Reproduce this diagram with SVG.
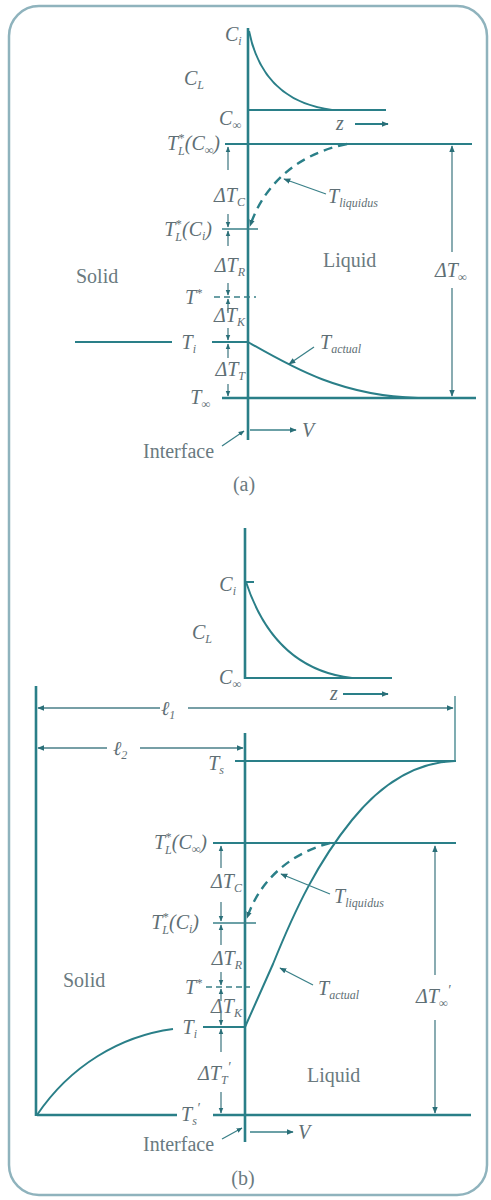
<svg xmlns="http://www.w3.org/2000/svg" width="491" height="1200" viewBox="0 0 491 1200">
<defs>
<marker id="ah" viewBox="0 0 10 10" refX="9" refY="5" markerWidth="7" markerHeight="7" orient="auto-start-reverse" markerUnits="userSpaceOnUse">
<path d="M0,1 L10,5 L0,9 Z" fill="#2a6f78"/>
</marker>
<marker id="ahs" viewBox="0 0 10 10" refX="9" refY="5" markerWidth="6" markerHeight="6" orient="auto-start-reverse" markerUnits="userSpaceOnUse">
<path d="M0,1 L10,5 L0,9 Z" fill="#2a6f78"/>
</marker>
</defs>
<style>
.t{font-family:"Liberation Serif",serif;font-style:italic;font-size:20px;fill:#5f6f75}
.e{text-anchor:end}
.r{font-family:"Liberation Serif",serif;font-size:20px;fill:#6a7a80}
.s{font-size:12px}
.p{font-size:14px}
.ax{stroke:#2a7f88;stroke-width:2.6;fill:none}
.ln{stroke:#2a7f88;stroke-width:2;fill:none}
.th{stroke:#3a8088;stroke-width:1.3;fill:none}
.dim{stroke:#4a7f88;stroke-width:1.3;fill:none}
.da{stroke:#2a7f88;stroke-width:2.4;fill:none;stroke-dasharray:9,6}
</style>
<rect x="9" y="6" width="478" height="1189" rx="30" fill="#ffffff" stroke="#8fb3bd" stroke-width="2.5"/>

<g id="connectors">
<!-- part a -->
<line class="ax" x1="248" y1="28" x2="248" y2="440"/>
<path class="ln" d="M249,31 C258,76 285,104 332,110"/>
<line class="ln" x1="249" y1="110" x2="386" y2="110"/>
<line class="ln" x1="355" y1="124" x2="388" y2="124" marker-end="url(#ah)"/>
<line class="ln" x1="225" y1="144" x2="472" y2="144"/>
<path class="da" d="M347,144 C292,155 262,190 250,226" marker-end="url(#ah)"/>
<line class="th" x1="326" y1="194" x2="284" y2="179" marker-end="url(#ah)"/>
<line class="dim" x1="452" y1="252" x2="452" y2="146" marker-end="url(#ah)"/>
<line class="dim" x1="452" y1="288" x2="452" y2="396" marker-end="url(#ah)"/>
<line class="th" x1="222" y1="229" x2="258" y2="229"/>
<line class="th" x1="214" y1="297" x2="256" y2="297" stroke-dasharray="6,4"/>
<line class="ln" x1="75" y1="342" x2="172" y2="342"/>
<line class="ln" x1="212" y1="342" x2="248" y2="342"/>
<line class="ax" x1="222" y1="398" x2="476" y2="398"/>
<path class="ln" d="M248,342 C290,366 340,396 418,398"/>
<line class="th" x1="314" y1="347" x2="289" y2="364" marker-end="url(#ah)"/>
<line class="dim" x1="228" y1="170" x2="228" y2="147" marker-end="url(#ahs)"/>
<line class="dim" x1="228" y1="214" x2="228" y2="227" marker-end="url(#ahs)"/>
<line class="dim" x1="228" y1="246" x2="228" y2="231" marker-end="url(#ahs)"/>
<line class="dim" x1="228" y1="283" x2="228" y2="295" marker-end="url(#ahs)"/>
<line class="dim" x1="228" y1="313" x2="228" y2="299" marker-end="url(#ahs)"/>
<line class="dim" x1="228" y1="328" x2="228" y2="340" marker-end="url(#ahs)"/>
<line class="dim" x1="228" y1="358" x2="228" y2="344" marker-end="url(#ahs)"/>
<line class="dim" x1="228" y1="384" x2="228" y2="396" marker-end="url(#ahs)"/>
<line class="th" x1="222" y1="446" x2="244" y2="431" marker-end="url(#ahs)"/>
<line class="th" x1="250" y1="430" x2="296" y2="430" marker-end="url(#ah)"/>

<!-- part b -->
<line class="ax" x1="245" y1="528" x2="245" y2="679"/>
<line class="ln" x1="245" y1="582" x2="254" y2="582"/>
<path class="ln" d="M246,582 C265,640 300,672 352,678"/>
<line class="ln" x1="245" y1="678" x2="392" y2="678"/>
<line class="ln" x1="343" y1="694" x2="388" y2="694" marker-end="url(#ah)"/>
<line class="ax" x1="36" y1="686" x2="36" y2="1116"/>
<line class="th" x1="455" y1="696" x2="455" y2="762"/>
<line class="dim" x1="160" y1="708" x2="38" y2="708" marker-end="url(#ah)"/>
<line class="dim" x1="188" y1="708" x2="453" y2="708" marker-end="url(#ah)"/>
<line class="dim" x1="107" y1="748" x2="38" y2="748" marker-end="url(#ah)"/>
<line class="dim" x1="140" y1="748" x2="243" y2="748" marker-end="url(#ah)"/>
<line class="ax" x1="245" y1="733" x2="245" y2="1142"/>
<line class="ln" x1="235" y1="761" x2="456" y2="761"/>
<line class="ln" x1="213" y1="843" x2="456" y2="843"/>
<path class="da" d="M330,843 C285,855 258,885 247,918" marker-end="url(#ah)"/>
<path class="ln" d="M245,1027 L273,964 C296,907 318,862 352,820 C386,778 420,762 455,761"/>
<line class="th" x1="330" y1="894" x2="281" y2="874" marker-end="url(#ah)"/>
<line class="th" x1="313" y1="985" x2="280" y2="968" marker-end="url(#ah)"/>
<line class="th" x1="213" y1="923" x2="256" y2="923"/>
<line class="th" x1="206" y1="987" x2="250" y2="987" stroke-dasharray="6,4"/>
<line class="ln" x1="203" y1="1027" x2="245" y2="1027"/>
<path class="ln" d="M37,1115 C70,1066 120,1036 173,1029"/>
<line class="ax" x1="37" y1="1115" x2="177" y2="1115"/>
<line class="ax" x1="213" y1="1115" x2="471" y2="1115"/>
<line class="dim" x1="435" y1="975" x2="435" y2="846" marker-end="url(#ah)"/>
<line class="dim" x1="435" y1="1020" x2="435" y2="1113" marker-end="url(#ah)"/>
<line class="dim" x1="221" y1="868" x2="221" y2="846" marker-end="url(#ahs)"/>
<line class="dim" x1="221" y1="902" x2="221" y2="921" marker-end="url(#ahs)"/>
<line class="dim" x1="221" y1="945" x2="221" y2="925" marker-end="url(#ahs)"/>
<line class="dim" x1="221" y1="972" x2="221" y2="985" marker-end="url(#ahs)"/>
<line class="dim" x1="221" y1="1001" x2="221" y2="989" marker-end="url(#ahs)"/>
<line class="dim" x1="221" y1="1013" x2="221" y2="1025" marker-end="url(#ahs)"/>
<line class="dim" x1="221" y1="1052" x2="221" y2="1029" marker-end="url(#ahs)"/>
<line class="dim" x1="221" y1="1092" x2="221" y2="1113" marker-end="url(#ahs)"/>
<line class="th" x1="222" y1="1139" x2="242" y2="1128" marker-end="url(#ahs)"/>
<line class="th" x1="250" y1="1132" x2="293" y2="1132" marker-end="url(#ah)"/>
</g>

<g id="labels-a">
<text class="t" x="225" y="41">C<tspan class="s" dy="4">i</tspan></text>
<text class="t" x="184" y="85">C<tspan class="s" dy="4">L</tspan></text>
<text class="t e" x="241" y="125">C<tspan class="s" dy="4">∞</tspan></text>
<text class="t" x="336" y="130">z</text>
<text class="t e" x="220" y="150">T<tspan class="s" dy="-8">*</tspan><tspan class="s" dx="-6" dy="13">L</tspan><tspan dy="-5">(C</tspan><tspan class="s" dy="4">∞</tspan><tspan dy="-4">)</tspan></text>
<text class="t e" x="245" y="202">ΔT<tspan class="s" dy="4">C</tspan></text>
<text class="t e" x="212" y="236">T<tspan class="s" dy="-8">*</tspan><tspan class="s" dx="-6" dy="13">L</tspan><tspan dy="-5">(C</tspan><tspan class="s" dy="4">i</tspan><tspan dy="-4">)</tspan></text>
<text class="t e" x="245" y="272">ΔT<tspan class="s" dy="4">R</tspan></text>
<text class="t e" x="202" y="304">T<tspan class="s" dy="-7">*</tspan></text>
<text class="t e" x="245" y="322">ΔT<tspan class="s" dy="4">K</tspan></text>
<text class="t e" x="196" y="349">T<tspan class="s" dy="4">i</tspan></text>
<text class="t e" x="245" y="376">ΔT<tspan class="s" dy="4">T</tspan></text>
<text class="t e" x="210" y="404">T<tspan class="s" dy="4">∞</tspan></text>
<text class="t" x="328" y="203">T<tspan class="s" dy="4">liquidus</tspan></text>
<text class="t" x="320" y="349">T<tspan class="s" dy="4">actual</tspan></text>
<text class="t" x="435" y="277">ΔT<tspan class="s" dy="4">∞</tspan></text>
<text class="r" x="76" y="283">Solid</text>
<text class="r" x="323" y="267">Liquid</text>
<text class="r" x="143" y="458" font-size="18">Interface</text>
<text class="t" x="302" y="437">V</text>
<text class="r" x="244" y="491" text-anchor="middle" font-size="16">(a)</text>
</g>

<g id="labels-b">
<text class="t e" x="236" y="591">C<tspan class="s" dy="4">i</tspan></text>
<text class="t" x="192" y="639">C<tspan class="s" dy="4">L</tspan></text>
<text class="t e" x="241" y="684">C<tspan class="s" dy="4">∞</tspan></text>
<text class="t" x="330" y="700">z</text>
<text class="t" x="161" y="715">ℓ<tspan class="s" dy="4">1</tspan></text>
<text class="t" x="113" y="755">ℓ<tspan class="s" dy="4">2</tspan></text>
<text class="t e" x="224" y="770">T<tspan class="s" dy="4">s</tspan></text>
<text class="t e" x="207" y="849">T<tspan class="s" dy="-8">*</tspan><tspan class="s" dx="-6" dy="13">L</tspan><tspan dy="-5">(C</tspan><tspan class="s" dy="4">∞</tspan><tspan dy="-4">)</tspan></text>
<text class="t e" x="242" y="888">ΔT<tspan class="s" dy="4">C</tspan></text>
<text class="t e" x="199" y="929">T<tspan class="s" dy="-8">*</tspan><tspan class="s" dx="-6" dy="13">L</tspan><tspan dy="-5">(C</tspan><tspan class="s" dy="4">i</tspan><tspan dy="-4">)</tspan></text>
<text class="t e" x="242" y="965">ΔT<tspan class="s" dy="4">R</tspan></text>
<text class="t e" x="202" y="994">T<tspan class="s" dy="-7">*</tspan></text>
<text class="t e" x="242" y="1013">ΔT<tspan class="s" dy="4">K</tspan></text>
<text class="t e" x="197" y="1034">T<tspan class="s" dy="4">i</tspan></text>
<text class="t" x="198" y="1080">ΔT<tspan class="s" dy="4">T</tspan><tspan class="p" dy="-12">′</tspan></text>
<text class="t" x="181" y="1121">T<tspan class="s" dy="4">s</tspan><tspan class="p" dy="-12">′</tspan></text>
<text class="t" x="334" y="903">T<tspan class="s" dy="4">liquidus</tspan></text>
<text class="t" x="318" y="995">T<tspan class="s" dy="4">actual</tspan></text>
<text class="t" x="416" y="1003">ΔT<tspan class="s" dy="4">∞</tspan><tspan class="p" dy="-12">′</tspan></text>
<text class="r" x="63" y="987">Solid</text>
<text class="r" x="307" y="1082">Liquid</text>
<text class="r" x="143" y="1151" font-size="18">Interface</text>
<text class="t" x="298" y="1139">V</text>
<text class="r" x="243" y="1185" text-anchor="middle" font-size="16">(b)</text>
</g>
</svg>
